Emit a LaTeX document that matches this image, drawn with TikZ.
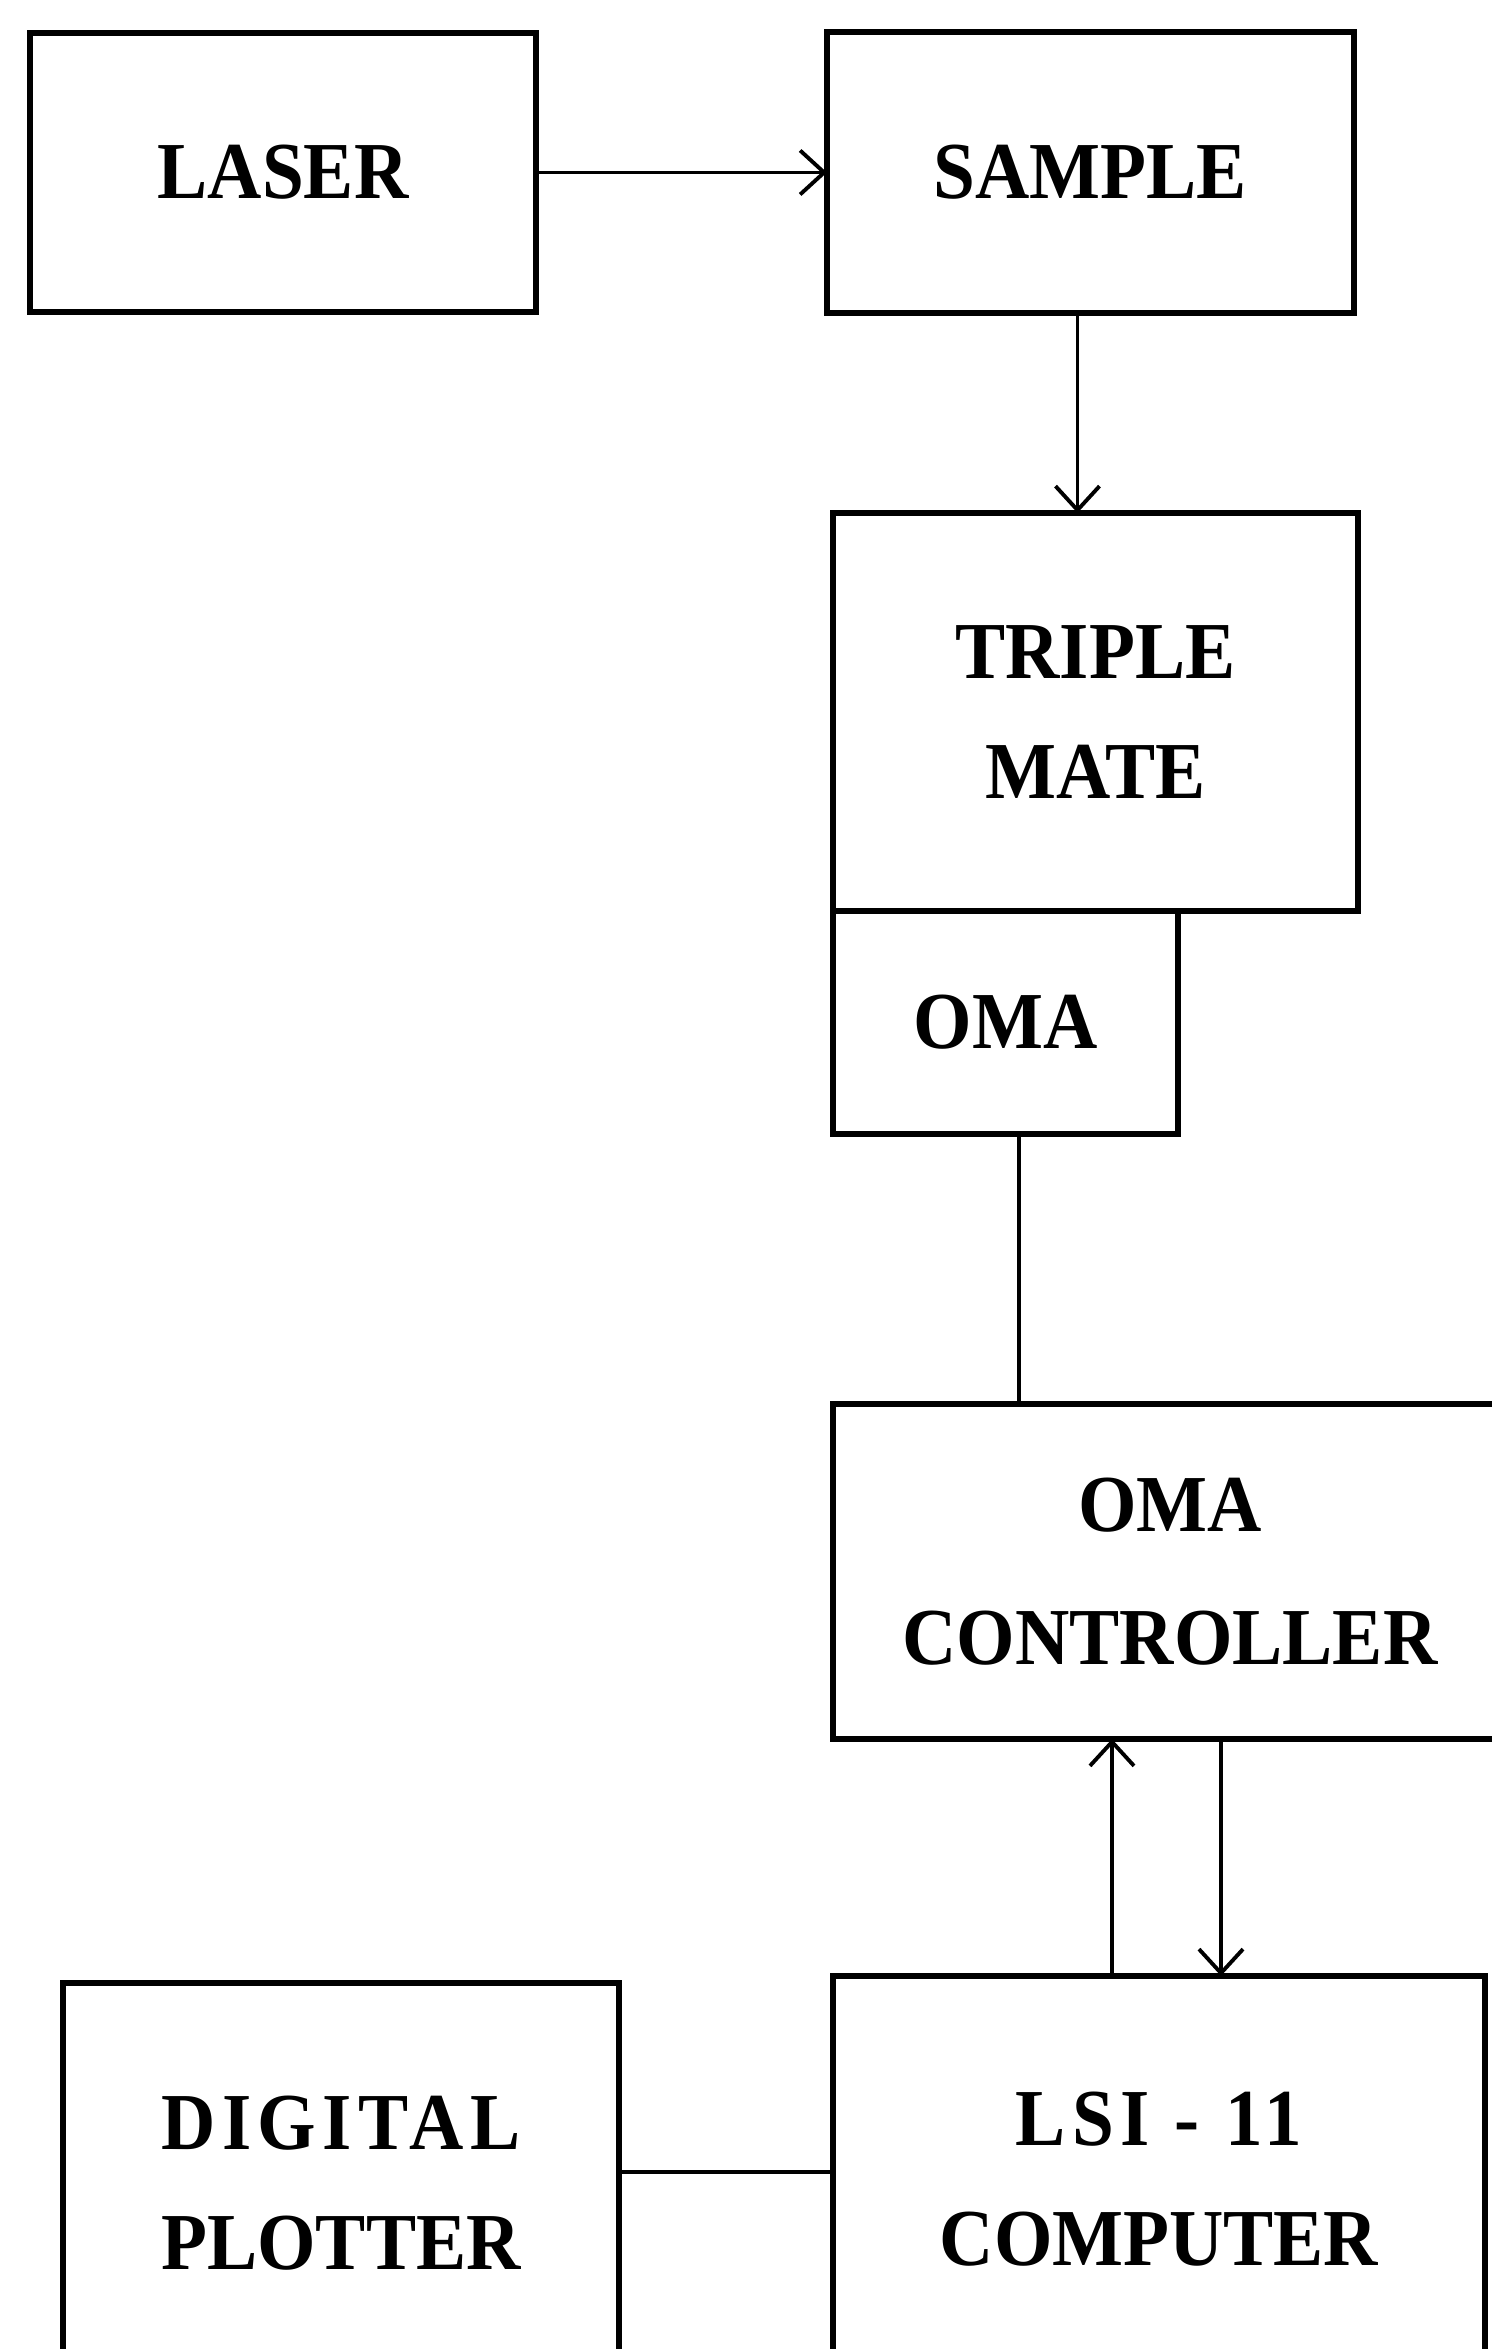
\documentclass[tikz,border=0pt]{standalone}
\usepackage{fontspec}
\setmainfont{Liberation Serif}[FakeStretch=0.93]
\newfontfamily\widefont{Liberation Serif}[FakeStretch=0.93, LetterSpace=8]
\usetikzlibrary{arrows.meta, positioning}

\begin{document}
\begin{tikzpicture}[
  box/.style={draw, line width=1.5pt, align=center, inner sep=0pt, outer sep=0pt,
    font=\bfseries\fontsize{23}{34}\selectfont},
  link/.style={line width=1.1pt},
  flow/.style={-{Straight Barb[length=2.4mm, width=4.4mm]}, line width=1.1pt}
]
\clip (0,0) rectangle (14.92,23.49);
\node[box, minimum width=5.06cm, minimum height=2.79cm] (laser) at (2.83,21.765) {LASER};
\node[box, minimum width=5.27cm, minimum height=2.81cm, right=2.91cm of laser] (sample) {SAMPLE};
\node[box, minimum width=5.25cm, minimum height=3.98cm, below=2cm of sample.south west, anchor=north west, xshift=0.6mm] (triple) {TRIPLE\\ MATE};
\node[box, minimum width=3.45cm, minimum height=2.23cm, below=0pt of triple.south west, anchor=north west] (oma) {OMA};
\node[box, minimum width=6.74cm, minimum height=3.35cm, below=2.7cm of oma.south west, anchor=north west] (ctrl) {OMA\\[4pt] CONTROLLER};
\node[box, minimum width=6.52cm, minimum height=4.06cm, below=2.37cm of ctrl.south west, anchor=north west] (lsi) {{\widefont LSI - 11}\\ COMPUTER};
\node[box, minimum width=5.56cm, minimum height=4.0cm, left=2.14cm of lsi.north west, anchor=north east, yshift=-0.7mm] (plotter) {{\widefont DIGITAL}\\ PLOTTER};

\draw[flow] (laser) -- (sample);
\draw[flow] ([xshift=-1.3mm]sample.south) -- ([xshift=-1.3mm]sample.south |- triple.north);
\draw[link] ([xshift=1.35mm]oma.south) -- ([xshift=1.35mm]oma.south |- ctrl.north);
\draw[flow] ([xshift=-4.7mm]lsi.north) -- ([xshift=-4.7mm]lsi.north |- ctrl.south);
\draw[flow] ([xshift=6.2mm]lsi.north |- ctrl.south) -- ([xshift=6.2mm]lsi.north);
\draw[link] ([yshift=1.1mm]plotter.east) -- ([yshift=1.1mm]plotter.east -| lsi.west);
\end{tikzpicture}
\end{document}
